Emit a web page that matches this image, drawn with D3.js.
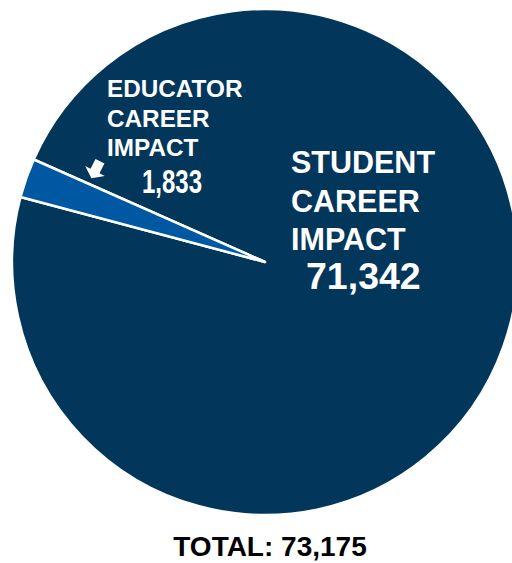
<!DOCTYPE html>
<html>
<head>
<meta charset="utf-8">
<script src="https://cdn.jsdelivr.net/npm/d3@7"></script>
<style>
  html, body { margin: 0; padding: 0; background: #ffffff; }
  svg { display: block; }
</style>
</head>
<body>
<svg id="chart" width="512" height="563"></svg>
<script>
// ---- data ----
const categories = ["STUDENT CAREER IMPACT", "EDUCATOR CAREER IMPACT"];
const labelLines = [["STUDENT", "CAREER", "IMPACT"], ["EDUCATOR", "CAREER", "IMPACT"]];
const values = [71342, 1833];
const colors = ["#02375B", "#0058A2"];
const totalLabel = "TOTAL: ";

// ---- layout ----
const svg = d3.select("#chart");
const cx = 265, cy = 262, R = 253;
const fmt = d3.format(",");
const deg = Math.PI / 180;
const start = 293.9 * deg;

const data = categories.map((c, i) => ({ cat: c, value: values[i], lines: labelLines[i], color: colors[i] }));

const pie = d3.pie().value(d => d.value).sort(null)
  .startAngle(start).endAngle(start + 2 * Math.PI);
const arc = d3.arc().innerRadius(0).outerRadius(R);

const g = svg.append("g").attr("transform", `translate(${cx},${cy})`);
g.selectAll("path.slice")
  .data(pie(data))
  .join("path")
  .attr("class", "slice")
  .attr("d", arc)
  .attr("fill", d => d.data.color)
  .attr("stroke", "#ffffff")
  .attr("stroke-width", 2.5)
  .attr("stroke-linejoin", "round");

const font = "'Liberation Sans', Arial, Helvetica, sans-serif";

// Student label
const stu = data[0];
svg.append("g").selectAll("text")
  .data(stu.lines)
  .join("text")
  .attr("x", 291)
  .attr("y", (d, i) => 173 + i * 38.5)
  .attr("fill", "#ffffff")
  .attr("font-family", font)
  .attr("font-weight", "bold")
  .attr("font-size", 30.5)
  .text(d => d);
svg.append("text")
  .attr("x", 306).attr("y", 289)
  .attr("fill", "#ffffff")
  .attr("font-family", font)
  .attr("font-weight", "bold")
  .attr("font-size", 37.5)
  .text(fmt(stu.value));

// Educator label
const edu = data[1];
svg.append("g").selectAll("text")
  .data(edu.lines)
  .join("text")
  .attr("x", 107)
  .attr("y", (d, i) => 97 + i * 29.5)
  .attr("fill", "#ffffff")
  .attr("font-family", font)
  .attr("font-weight", "bold")
  .attr("font-size", 24.3)
  .text(d => d);
svg.append("text")
  .attr("x", 142).attr("y", 193)
  .attr("fill", "#ffffff")
  .attr("font-family", font)
  .attr("font-weight", "bold")
  .attr("font-size", 33)
  .attr("textLength", 60)
  .attr("lengthAdjust", "spacingAndGlyphs")
  .text(fmt(edu.value));

// arrow pointing to educator slice
svg.append("path")
  .attr("d", "M-5,-11 L5,-11 L5,0 L11,0 L0,8 L-11,0 L-5,0 Z")
  .attr("transform", "translate(95,171) rotate(27)")
  .attr("fill", "#ffffff");

// Total
const total = d3.sum(values);
svg.append("text")
  .attr("x", 270).attr("y", 556)
  .attr("text-anchor", "middle")
  .attr("fill", "#000000")
  .attr("font-family", font)
  .attr("font-weight", "bold")
  .attr("font-size", 28)
  .text(totalLabel + fmt(total));
</script>
</body>
</html>
